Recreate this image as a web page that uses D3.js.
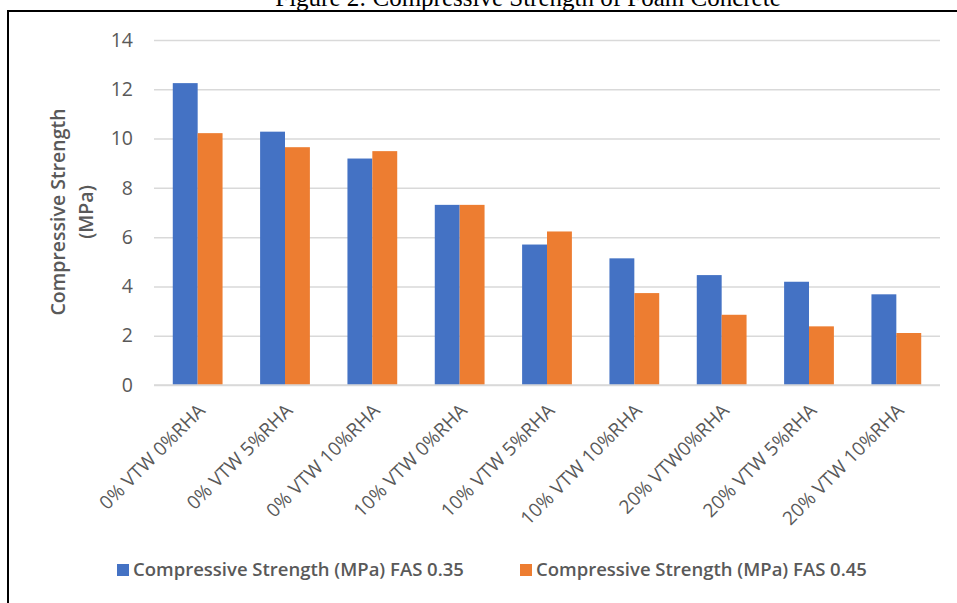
<!DOCTYPE html>
<html>
<head>
<meta charset="utf-8">
<script src="https://cdn.jsdelivr.net/npm/d3@7"></script>
<style>
  html, body { margin: 0; padding: 0; background: #fff; }
  svg { display: block; }
</style>
</head>
<body>
<svg id="chart" width="957" height="603"></svg>
<script>
// Mix designs (vegetable-tanned waste % / rice husk ash %)
const categories = [
  "0% VTW 0%RHA", "0% VTW 5%RHA", "0% VTW 10%RHA",
  "10% VTW 0%RHA", "10% VTW 5%RHA", "10% VTW 10%RHA",
  "20% VTW0%RHA", "20% VTW 5%RHA", "20% VTW 10%RHA"
];
const seriesNames = [
  "Compressive Strength (MPa) FAS 0.35",
  "Compressive Strength (MPa) FAS 0.45"
];
const fas035 = [12.25, 10.28, 9.19, 7.31, 5.70, 5.14, 4.46, 4.19, 3.68];
const fas045 = [10.22, 9.65, 9.49, 7.31, 6.23, 3.73, 2.85, 2.38, 2.11];
const yTicks = [0, 2, 4, 6, 8, 10, 12, 14];
const colors = ["#4472C4", "#ED7D31"];

const svg = d3.select("#chart");
const font = "'Open Sans', 'Noto Sans', sans-serif";
const grey = "#595959";

// Figure caption (partly above the page edge)
svg.append("text")
  .attr("x", 528).attr("y", 6)
  .attr("text-anchor", "middle")
  .attr("font-family", "'Liberation Serif', 'Times New Roman', serif")
  .attr("font-size", 25)
  .attr("fill", "#000")
  .text("Figure 2: Compressive Strength of Foam Concrete");

// Frame around the chart
svg.append("rect")
  .attr("x", 8).attr("y", 11)
  .attr("width", 980).attr("height", 620)
  .attr("fill", "none")
  .attr("stroke", "#000")
  .attr("stroke-width", 2);

const plot = { left: 154, right: 940, top: 40, bottom: 385 };

const x = d3.scaleBand()
  .domain(categories)
  .range([plot.left, plot.right])
  .paddingInner(0.43)
  .paddingOuter(0.215);

const xs = d3.scaleBand()
  .domain(d3.range(seriesNames.length))
  .range([0, x.bandwidth()]);

const y = d3.scaleLinear()
  .domain([0, 14])
  .range([plot.bottom, plot.top]);

// Gridlines and value axis
const yAxis = d3.axisLeft(y).tickValues(yTicks)
  .tickSize(-(plot.right - plot.left)).tickPadding(21);
const gy = svg.append("g")
  .attr("transform", `translate(${plot.left},0)`)
  .call(yAxis);
gy.select(".domain").remove();
gy.selectAll(".tick line").attr("stroke", "#D9D9D9").attr("stroke-width", 1.5);
gy.selectAll(".tick text")
  .attr("font-family", font).attr("font-size", 19.5).attr("fill", grey);

// Bars
const rows = categories.map((c, i) => ({ c, v: [fas035[i], fas045[i]] }));
const groups = svg.append("g").selectAll("g")
  .data(rows).join("g")
  .attr("transform", d => `translate(${x(d.c)},0)`);
groups.selectAll("rect")
  .data(d => d.v.map((v, k) => ({ v, k })))
  .join("rect")
  .attr("x", d => xs(d.k))
  .attr("width", xs.bandwidth())
  .attr("y", d => y(d.v))
  .attr("height", d => y(0) - y(d.v))
  .attr("fill", d => colors[d.k]);

// Baseline redrawn over the bars
svg.append("line")
  .attr("x1", plot.left).attr("x2", plot.right)
  .attr("y1", y(0)).attr("y2", y(0))
  .attr("stroke", "#D9D9D9").attr("stroke-width", 1.5);

// Category labels, rotated
const xAxis = d3.axisBottom(x).tickSize(0).tickPadding(0);
const gx = svg.append("g")
  .attr("transform", `translate(0,${plot.bottom})`)
  .call(xAxis);
gx.select(".domain").remove();
gx.selectAll(".tick text")
  .attr("font-family", font).attr("font-size", 19).attr("fill", grey)
  .attr("text-anchor", "end")
  .attr("dy", "0.35em")
  .attr("transform", "translate(4,22) rotate(-45)");

// Value axis title
const yTitle = svg.append("text")
  .attr("transform", "translate(72,212) rotate(-90)")
  .attr("text-anchor", "middle")
  .attr("font-family", font).attr("font-size", 19.5)
  .attr("font-weight", 600).attr("fill", grey);
yTitle.append("tspan").attr("x", 0).attr("y", -7).text("Compressive Strength");
yTitle.append("tspan").attr("x", 0).attr("y", 21).text("(MPa)");

// Legend
const legendX = [117, 520];
const legend = svg.append("g").selectAll("g")
  .data(seriesNames).join("g")
  .attr("transform", (d, i) => `translate(${legendX[i]},570)`);
legend.append("rect")
  .attr("x", 0).attr("y", -6).attr("width", 12).attr("height", 12)
  .attr("fill", (d, i) => colors[i]);
legend.append("text")
  .attr("x", 16).attr("y", 0).attr("dy", "0.35em")
  .attr("font-family", font).attr("font-size", 18.5)
  .attr("font-weight", 600).attr("fill", grey)
  .text(d => d);
</script>
</body>
</html>
